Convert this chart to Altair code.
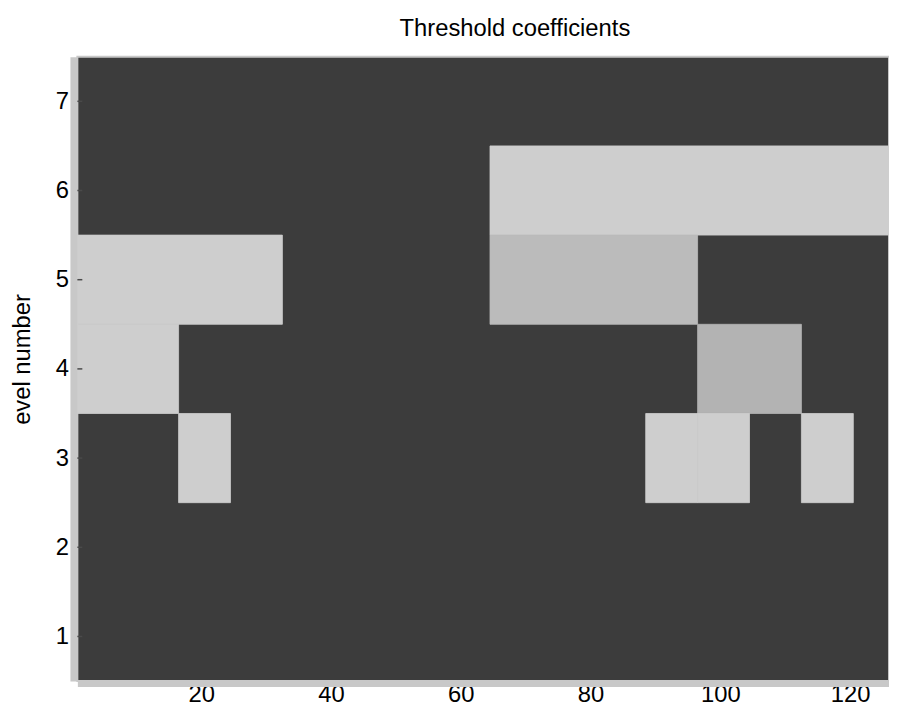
import altair as alt
import pandas as pd

# ---- data ----
title_text = "Threshold coefficients"
y_title = "evel number"
levels = [1, 2, 3, 4, 5, 6, 7]
x_ticks = [20, 40, 60, 80, 100, 120]

# coefficients kept after thresholding: level, position index within the level, shade
kept_level = [6, 5, 5, 4, 4, 3, 3, 3, 3]
kept_index = [2, 1, 3, 1, 7, 3, 12, 13, 15]
kept_shade = ["light", "light", "mid", "light", "dim", "light", "light", "light", "light"]

shade_names = ["light", "mid", "dim"]
shade_colors = ["#cecece", "#bbbbbb", "#b3b3b3"]

FONT = "Liberation Sans"
FRAME = "#c8c8c8"

cells = pd.DataFrame({"level": kept_level, "index": kept_index, "shade": kept_shade})
tick_df = pd.DataFrame({"level": levels})

xscale = alt.Scale(domain=[0.9, 126], nice=False, zero=False)
yscale = alt.Scale(domain=[0.5, 7.5], nice=False, zero=False)
shade_scale = alt.Scale(domain=shade_names, range=shade_colors)

rects = (
    alt.Chart(cells)
    .transform_calculate(
        x0="(datum.index - 1) * pow(2, datum.level) + 0.5",
        x1="datum.index * pow(2, datum.level) + 0.5",
        y0="datum.level - 0.5",
        y1="datum.level + 0.5",
    )
    .mark_rect(clip=True, strokeWidth=0.8)
    .encode(
        x=alt.X(
            "x0:Q",
            scale=xscale,
            axis=alt.Axis(
                values=x_ticks,
                format="d",
                title=None,
                grid=False,
                ticks=False,
                domain=True,
                domainColor=FRAME,
                domainWidth=5,
                offset=3,
                labelFont=FONT,
                labelFontSize=24,
                labelColor="#000000",
                labelBaseline="alphabetic",
                labelPadding=18,
            ),
        ),
        x2="x1:Q",
        y=alt.Y(
            "y0:Q",
            scale=yscale,
            axis=alt.Axis(
                values=levels,
                format="d",
                title=y_title,
                grid=False,
                ticks=False,
                domain=True,
                domainColor=FRAME,
                domainWidth=7,
                offset=4,
                labelFont=FONT,
                labelFontSize=24,
                labelColor="#000000",
                labelPadding=5,
                titleFont=FONT,
                titleFontSize=24,
                titleFontWeight="normal",
                titleColor="#000000",
                titleX=-51,
                titleY=305,
                titleAngle=270,
                titleAlign="center",
                titleBaseline="middle",
            ),
        ),
        y2="y1:Q",
        color=alt.Color("shade:N", scale=shade_scale, legend=None),
        stroke=alt.Stroke("shade:N", scale=shade_scale, legend=None),
    )
)

ticks = (
    alt.Chart(tick_df)
    .mark_rule(strokeWidth=1.5)
    .encode(
        y=alt.Y("level:Q", scale=yscale),
        x=alt.value(0),
        x2=alt.value(5),
        color=alt.value("#4a4a4a"),
    )
)

chart = (
    alt.layer(rects, ticks)
    .properties(
        width=819,
        height=630,
        padding={"left": 70, "top": 46, "right": 0, "bottom": 22},
        autosize=alt.AutoSizeParams(type="none"),
        background="#ffffff",
        title=alt.TitleParams(
            title_text,
            font=FONT,
            fontSize=24,
            fontWeight="normal",
            color="#000000",
            anchor="middle",
            dx=32,
            offset=16,
        ),
    )
    .configure_view(fill="#3c3c3c", stroke=FRAME, strokeWidth=2)
)

chart.save("out.html", embed_options={"renderer": "svg", "actions": False})
